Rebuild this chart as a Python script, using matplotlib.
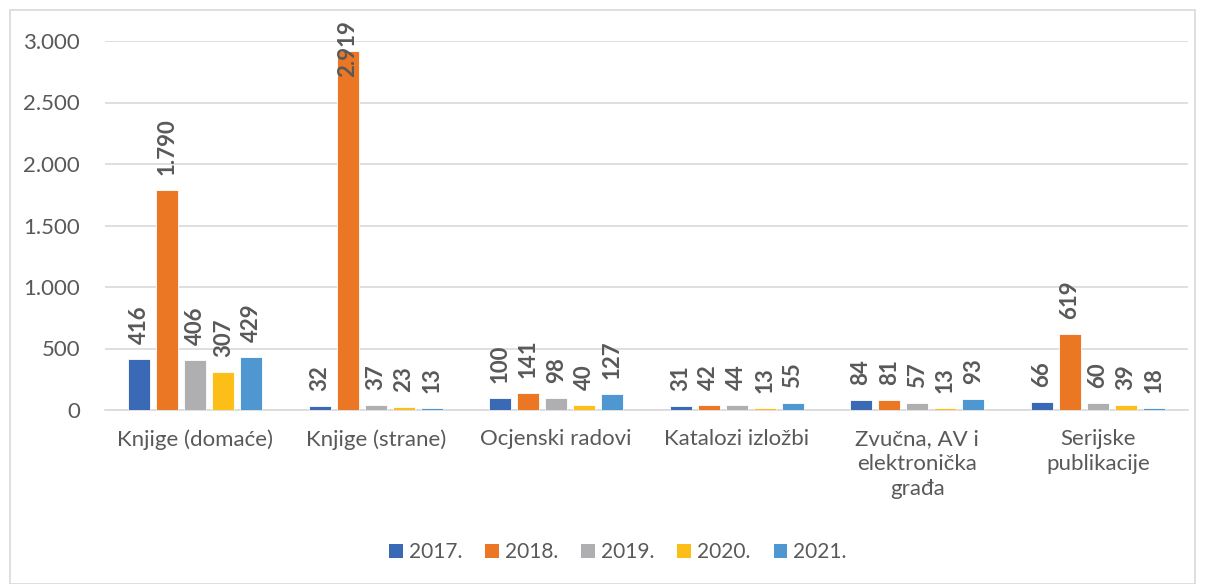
import matplotlib
matplotlib.use("Agg")
import matplotlib.pyplot as plt
import numpy as np
from matplotlib.patches import Rectangle

categories = ["Knjige (domaće)", "Knjige (strane)", "Ocjenski radovi",
              "Katalozi izložbi", "Zvučna, AV i\nelektronička\ngrađa",
              "Serijske\npublikacije"]
years = ["2017.", "2018.", "2019.", "2020.", "2021."]
v2017 = [416, 32, 100, 31, 84, 66]
v2018 = [1790, 2919, 141, 42, 81, 619]
v2019 = [406, 37, 98, 44, 57, 60]
v2020 = [307, 23, 40, 13, 13, 39]
v2021 = [429, 13, 127, 55, 93, 18]
series = [v2017, v2018, v2019, v2020, v2021]
colors = ["#3A6AB5", "#EB7725", "#AFAFB2", "#FDBF17", "#4E97D1"]
yticks = [0, 500, 1000, 1500, 2000, 2500, 3000]
ytick_labels = ["0", "500", "1.000", "1.500", "2.000", "2.500", "3.000"]

plt.rcParams['font.family'] = ['Lato', 'DejaVu Sans']
txt = "#595959"

W, H = 1205, 584
fig = plt.figure(figsize=(W / 100, H / 100), dpi=100)
fig.patches.append(Rectangle((10 / W, 0.0), 1185 / W, 1 - 10 / H - 0.0,
                             transform=fig.transFigure, fill=False,
                             edgecolor="#d9d9d9", linewidth=1.2))

ax = fig.add_axes([105 / W, 1 - 410 / H, (1188 - 105) / W, (410 - 41) / H])
ax.set_ylim(0, 3000)
ax.set_xlim(-0.5, len(categories) - 0.5)

x = np.arange(len(categories))
step = 28 / 180
bw = 22 / 180
unit_px = (410 - 41) / 3000.0

for i, (vals, c, yr) in enumerate(zip(series, colors, years)):
    pos = x + (i - 2) * step
    ax.bar(pos, vals, width=bw, color=c, label=yr, zorder=3,
           edgecolor="white", linewidth=0.6)
    for px_, v in zip(pos, vals):
        label = f"{v:,}".replace(",", ".")
        top_px = 410 - v * unit_px
        est_len = len(label) * 11.5
        if top_px - 15 - est_len < 18:
            ax.annotate(label, (px_, 3000), xytext=(0, 21), textcoords="offset pixels",
                        rotation=90, ha="center", va="top", fontsize=16,
                        fontweight="bold", color=txt, annotation_clip=False, zorder=5)
        else:
            ax.annotate(label, (px_, v), xytext=(0, 15), textcoords="offset pixels",
                        rotation=90, ha="center", va="bottom", fontsize=16,
                        fontweight="bold", color=txt, annotation_clip=False, zorder=5)

ax.set_yticks(yticks)
ax.set_yticklabels(ytick_labels)
ax.set_xticks(x)
ax.set_xticklabels(categories, linespacing=1.3)
ax.tick_params(axis="both", length=0, labelsize=16, colors=txt)
ax.tick_params(axis="y", pad=18)
ax.tick_params(axis="x", pad=14)
ax.grid(axis="y", color="#d9d9d9", linewidth=1.2, zorder=0)
for s in ["top", "right", "left"]:
    ax.spines[s].set_visible(False)
ax.spines["bottom"].set_color("#d9d9d9")
ax.spines["bottom"].set_linewidth(1.2)

leg = fig.legend(loc="center", bbox_to_anchor=(618 / W, 1 - 552 / H), ncol=5,
                 frameon=False, fontsize=15, handlelength=0.65, handleheight=0.65,
                 handletextpad=0.3, columnspacing=1.1)
for t in leg.get_texts():
    t.set_color(txt)
for h in leg.legend_handles:
    h.set_edgecolor("none")

fig.savefig("out.png", dpi=100)
